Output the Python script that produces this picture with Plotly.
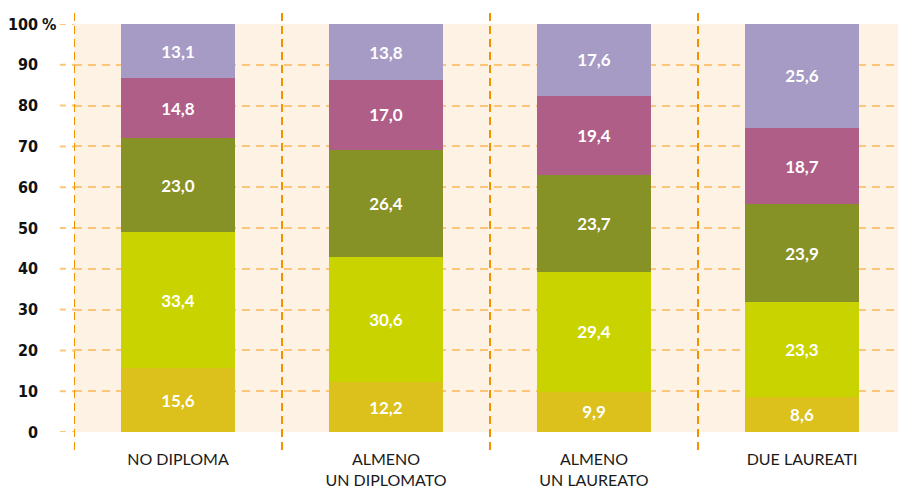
import plotly.graph_objects as go

categories = ["NO DIPLOMA", "ALMENO<br>UN DIPLOMATO", "ALMENO<br>UN LAUREATO", "DUE LAUREATI"]
series_1 = [15.6, 12.2, 9.9, 8.6]
series_2 = [33.4, 30.6, 29.4, 23.3]
series_3 = [23.0, 26.4, 23.7, 23.9]
series_4 = [14.8, 17.0, 19.4, 18.7]
series_5 = [13.1, 13.8, 17.6, 25.6]
y_ticks = [0, 10, 20, 30, 40, 50, 60, 70, 80, 90, 100]
y_tick_labels = ["0", "10", "20", "30", "40", "50", "60", "70", "80", "90", "100"]

colors = ["#dcc01b", "#c9d300", "#869126", "#ae5e87", "#a59bc4"]
all_series = [series_1, series_2, series_3, series_4, series_5]

fig = go.Figure()
for vals, col in zip(all_series, colors):
    fig.add_trace(go.Bar(
        x=categories, y=vals, marker=dict(color=col, line=dict(width=0)),
        texttemplate="%{y:.1f}", textposition="inside", insidetextanchor="middle",
        textangle=0, constraintext="none",
        textfont=dict(family="Lato, Noto Sans, sans-serif", size=17, color="white", weight="bold"),
        showlegend=False, hoverinfo="skip",
    ))

# vertical dashed separators
for xv in [-0.5, 0.5, 1.5, 2.5]:
    fig.add_shape(type="line", xref="x", yref="paper", x0=xv, x1=xv, y0=-0.044, y1=1.034,
                  line=dict(color="#f39200", width=2, dash="8px,5px"), layer="above")

# left extension of gridlines
for yv in y_ticks:
    fig.add_shape(type="line", xref="paper", yref="y", x0=-0.017, x1=0, y0=yv, y1=yv,
                  line=dict(color="#fbc57a", width=2, dash="6px,6px"), layer="above")

fig.add_annotation(text="%", xref="paper", yref="y", x=0, y=100, xanchor="left", yanchor="middle",
                   xshift=-34, showarrow=False,
                   font=dict(family="Liberation Sans Narrow, DejaVu Sans Condensed, sans-serif",
                             size=16, color="#111111", weight="bold"))

# page body has an 8px margin: shrink figure and margins to compensate
fig.update_layout(
    width=898, height=480,
    margin=dict(l=66, r=0, t=16, b=56, autoexpand=False),
    barmode="stack", bargap=0.452,
    separators=",.",
    plot_bgcolor="#fdf2e4", paper_bgcolor="white",
    xaxis=dict(range=[-0.5, 3.5], showgrid=False, zeroline=False, showline=False, automargin=False,
               tickfont=dict(family="Lato, Noto Sans, sans-serif", size=16, color="#1a1a1a"),
               ticklabelstandoff=16),
    yaxis=dict(range=[0, 100], tickvals=y_ticks, ticktext=y_tick_labels, automargin=False,
               showgrid=True, gridcolor="#fbc57a", gridwidth=2, griddash="8px,6px",
               zeroline=False, showline=False, ticklabelstandoff=35,
               tickfont=dict(family="Liberation Sans Narrow, DejaVu Sans Condensed, sans-serif",
                             size=16, color="#111111", weight="bold")),
)

fig.write_html("out.html")
